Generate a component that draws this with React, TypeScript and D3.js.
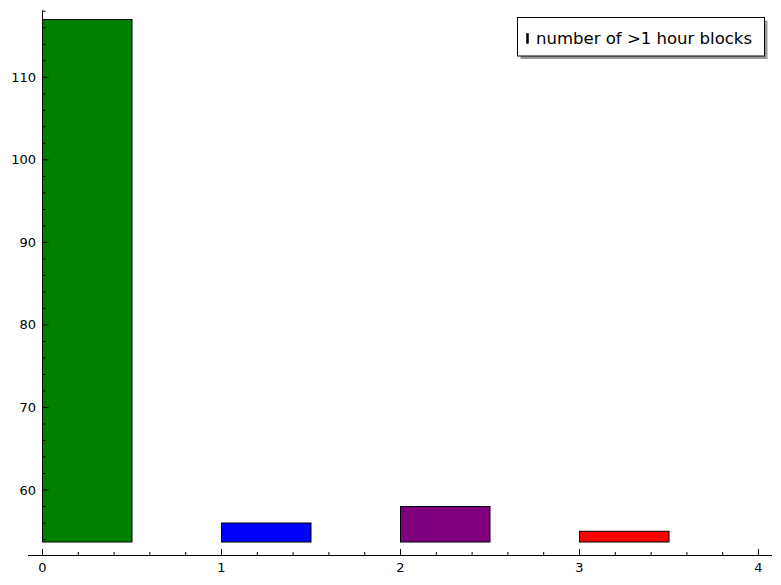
import React from "react";
import * as d3 from "d3";

const categories = [0, 1, 2, 3];
const values = [117, 56, 58, 55];
const colors = ["#008000", "#0000ff", "#800080", "#ff0000"];
const yTicks = [60, 70, 80, 90, 100, 110];
const xTicks = [0, 1, 2, 3, 4];
const legendLabel = "number of >1 hour blocks";
const barWidth = 0.5;
const yMin = 53.7;

export default function App() {
  const W = 781, H = 585;
  const x = d3.scaleLinear().domain([0, 4]).range([42.5, 758.5]);
  const y = d3.scaleLinear().domain([60, 110]).range([490, 77.3]);
  const yTop = y.invert(10);
  const yBot = y(yMin);
  const axisY = 555;
  const xMinorTicks = d3.range(-0.0, 4.01, 0.2).filter((v) => Math.abs(v - Math.round(v)) > 1e-6);
  const yMinor = d3.range(54, 118.5, 2).filter((v) => v % 10 !== 0);
  const font = "'DejaVu Sans'";
  return (
    <svg width={W} height={H} style={{ position: "absolute", left: 0, top: 0 }}>
      <rect width={W} height={H} fill="#fff" />
      {categories.map((c, i) => (
        <rect
          key={c}
          x={x(c)}
          y={y(values[i])}
          width={x(c + barWidth) - x(c)}
          height={yBot - y(values[i])}
          fill={colors[i]}
          stroke="#000"
          strokeWidth={1}
        />
      ))}
      {/* y axis */}
      <line x1={42.5} x2={42.5} y1={10} y2={yBot} stroke="#000" strokeWidth={1} />
      {yTicks.map((t) => (
        <g key={t}>
          <line x1={42.5} x2={48.5} y1={y(t)} y2={y(t)} stroke="#000" />
          <text x={36} y={y(t) + 4.5} textAnchor="end" fontFamily={font} fontSize={13}>
            {t}
          </text>
        </g>
      ))}
      {yMinor.filter((v) => v <= yTop).map((t) => (
        <line key={t} x1={42.5} x2={45.5} y1={y(t)} y2={y(t)} stroke="#000" />
      ))}
      {/* x axis */}
      <line x1={28} x2={772} y1={axisY + 0.5} y2={axisY + 0.5} stroke="#000" strokeWidth={1} />
      {xTicks.map((t) => (
        <g key={t}>
          <line x1={x(t)} x2={x(t)} y1={axisY} y2={axisY - 6} stroke="#000" />
          <text x={x(t)} y={572} textAnchor="middle" fontFamily={font} fontSize={13}>
            {t}
          </text>
        </g>
      ))}
      {xMinorTicks.map((t) => (
        <line key={t} x1={x(t)} x2={x(t)} y1={axisY} y2={axisY - 3} stroke="#000" />
      ))}
      {/* legend */}
      <rect x={520.5} y={20.5} width={247} height={38.5} fill="#999" stroke="none" />
      <rect x={517.5} y={17.5} width={247} height={38.5} fill="#fff" stroke="#000" strokeWidth={1} />
      <rect x={526.5} y={33.5} width={2} height={10} fill="#000" stroke="#000" strokeWidth={0.5} />
      <text x={536} y={43.5} fontFamily={font} fontSize={16} textLength={216} lengthAdjust="spacingAndGlyphs">
        {legendLabel}
      </text>
    </svg>
  );
}
